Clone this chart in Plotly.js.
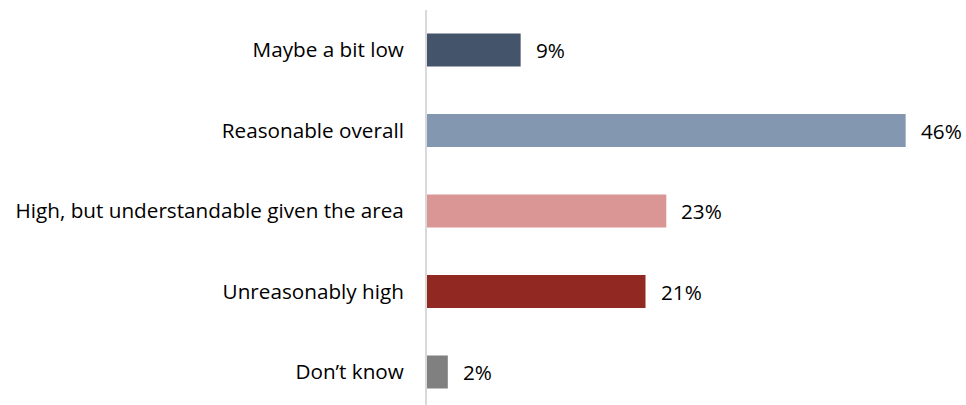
<!DOCTYPE html>
<html>
<head>
<meta charset="utf-8">
<script src="https://cdn.plot.ly/plotly-3.0.1.min.js"></script>
<style>html,body{margin:0;padding:0;background:#fff;}#chart{width:966px;height:405px;}</style>
</head>
<body>
<div id="chart"></div>
<script>
const categories = ["Maybe a bit low", "Reasonable overall", "High, but understandable given the area", "Unreasonably high", "Don\u2019t know"];
const values = [9, 46, 23, 21, 2];
const labels = ["9%", "46%", "23%", "21%", "2%"];
const colors = ["#44546A", "#8497B0", "#DA9694", "#922822", "#808080"];

const FONT = "'Open Sans', sans-serif";
const FS = 20.7;

const trace = {
  type: "bar",
  orientation: "h",
  y: categories,
  x: values,
  marker: {color: colors},
  width: 0.41,
  hoverinfo: "none"
};

const annotations = categories.map((c, i) => ({
  x: values[i], y: c, xref: "x", yref: "y",
  text: labels[i], showarrow: false, xanchor: "left", yanchor: "middle",
  xshift: 13, font: {family: FONT, size: FS, color: "#000"}
}));

const layout = {
  width: 966, height: 405,
  margin: {l: 427, r: 0, t: 10, b: 0, pad: 0},
  paper_bgcolor: "#fff", plot_bgcolor: "#fff",
  showlegend: false,
  xaxis: {range: [0, 51.8], showgrid: false, zeroline: false, showticklabels: false, showline: false, fixedrange: true},
  yaxis: {
    type: "category", range: [4.41, -0.497], showgrid: false, zeroline: false,
    showline: true, linecolor: "#D9D9D9", linewidth: 2,
    ticks: "", ticklabelstandoff: 17,
    tickfont: {family: FONT, size: FS, color: "#000"}
  },
  annotations: annotations,
  font: {family: FONT, size: FS, color: "#000"}
};

Plotly.newPlot("chart", [trace], layout, {displayModeBar: false, staticPlot: true});
</script>
</body>
</html>
